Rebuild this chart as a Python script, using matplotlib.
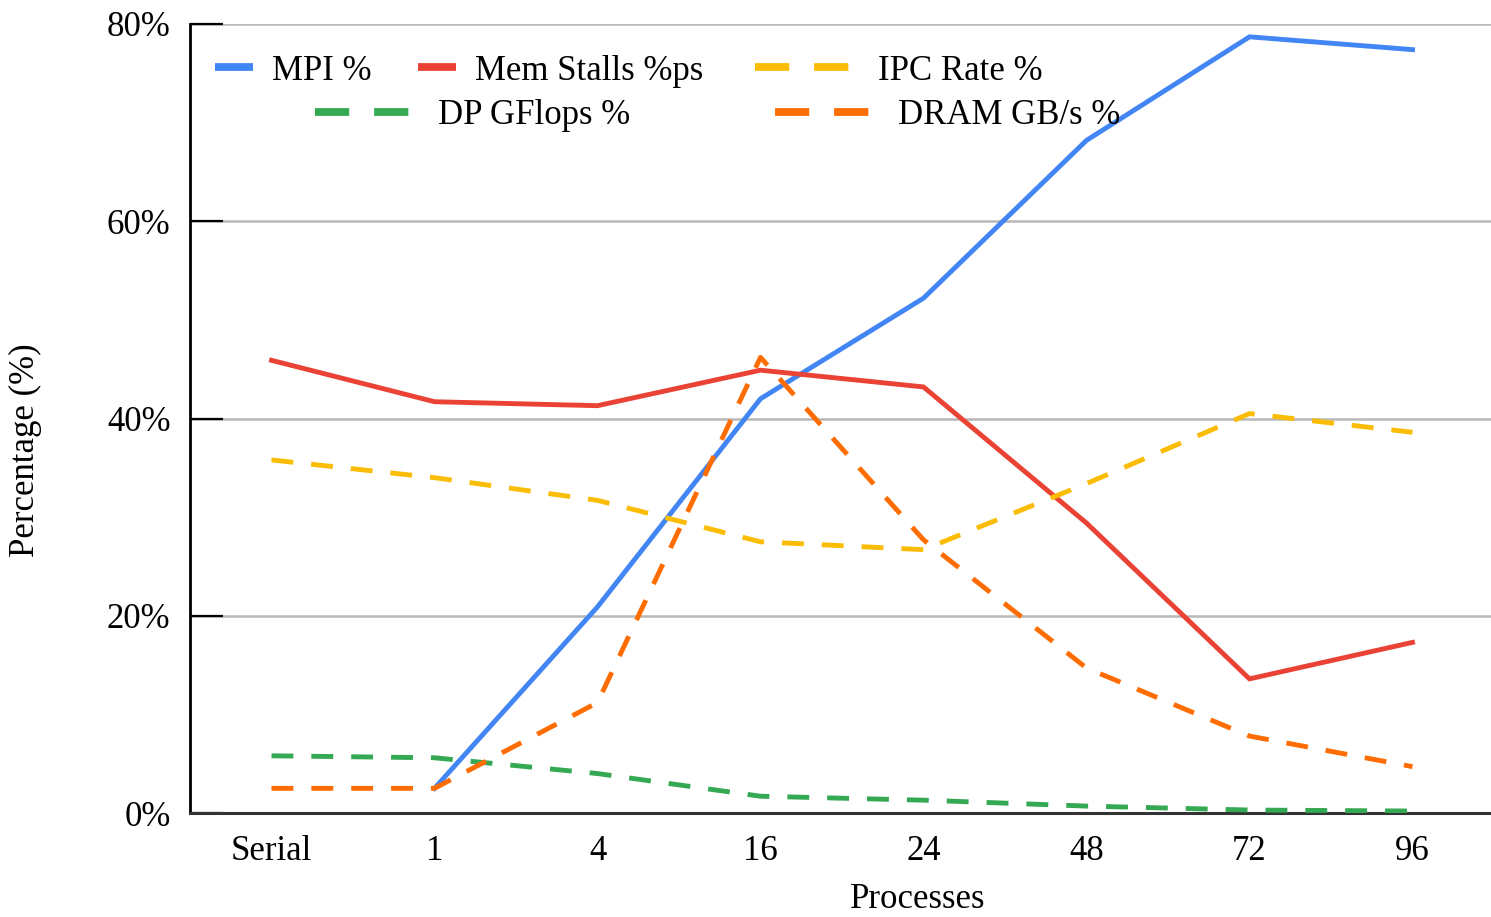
import numpy as np
import matplotlib
matplotlib.use("Agg")
import matplotlib.pyplot as plt
from matplotlib.lines import Line2D

categories = ["Serial", "1", "4", "16", "24", "48", "72", "96"]
mpi = [np.nan, 2.5, 20.9, 42.0, 52.2, 68.2, 78.7, 77.4]
mem_stalls = [45.9, 41.7, 41.3, 44.9, 43.2, 29.4, 13.6, 17.3]
ipc_rate = [35.8, 34.0, 31.7, 27.5, 26.7, 33.4, 40.5, 38.6]
dp_gflops = [5.8, 5.6, 4.0, 1.7, 1.3, 0.7, 0.3, 0.2]
dram = [2.5, 2.5, 11.2, 46.2, 27.7, 14.7, 7.8, 4.7]

series_names = ["MPI %", "Mem Stalls %ps", "IPC Rate %", "DP GFlops %", "DRAM GB/s %"]
colors = ["#4285F4", "#EA4335", "#FBBC04", "#34A853", "#FF6D01"]
dashed = [False, False, True, True, True]
yticks = [0, 20, 40, 60, 80]

FONT = "Liberation Serif"
FS = 25
plt.rcParams["font.family"] = [FONT, "DejaVu Serif"]

W, H = 1491, 917
fig = plt.figure(figsize=(W / 100, H / 100), dpi=100)
ax = fig.add_axes([190 / W, (H - 813) / H, (W - 190) / W, 789 / H])

x = np.arange(len(categories))
LW = 3.5
data = [mpi, mem_stalls, ipc_rate, dp_gflops, dram]
for vals, name, c, d in zip(data, series_names, colors, dashed):
    kw = dict(dashes=(4.5, 3.7)) if d else {}
    ax.plot(x, vals, color=c, lw=LW, label=name, solid_joinstyle="miter",
            dash_capstyle="butt", zorder=3, **kw)

ax.set_xlim(-0.5, (W - 190) / 163 - 0.5)
ax.set_ylim(0, 80)
ax.set_xticks(x)
ax.set_xticklabels(categories, fontsize=FS)
ax.set_yticks(yticks)
ax.set_yticklabels([f"{v}%" for v in yticks], fontsize=FS)
ax.tick_params(axis="x", length=0, pad=16)
ax.tick_params(axis="y", direction="in", length=24, width=1.6, color="black", pad=14)
ax.yaxis.grid(True, color="#b8b8b8", lw=1.8, zorder=0)
ax.set_axisbelow(True)
for s in ["top", "right"]:
    ax.spines[s].set_visible(False)
ax.spines["left"].set_color("black")
ax.spines["left"].set_linewidth(2.0)
ax.spines["bottom"].set_color("#333333")
ax.spines["bottom"].set_linewidth(2.2)

fig.text(25 / W, 1 - 450 / H, "Percentage (%)", rotation=90, ha="center", va="center", fontsize=FS)
fig.text(918 / W, 1 - 900 / H, "Processes", ha="center", va="center", fontsize=FS)

# legend: one entry per legend for individual handle lengths
legend_spec = [
    (0, 215, 71, 1.1),
    (1, 418, 71, 1.1),
    (2, 755, 71, 3.0),
    (3, 315, 116, 3.0),
    (4, 775, 116, 3.0),
]
for idx, px, py, hl in legend_spec:
    if dashed[idx]:
        h = Line2D([], [], color=colors[idx], lw=LW * 1.6, dashes=(4.4, 3.2), dash_capstyle="butt")
    else:
        h = Line2D([], [], color=colors[idx], lw=LW * 1.6, solid_capstyle="butt")
    fig.legend([h], [series_names[idx]], loc="center left",
               bbox_to_anchor=(px / W, 1 - py / H), frameon=False,
               borderpad=0, borderaxespad=0, handlelength=hl,
               handletextpad=0.55, fontsize=FS)

fig.savefig("out.png", dpi=100)
